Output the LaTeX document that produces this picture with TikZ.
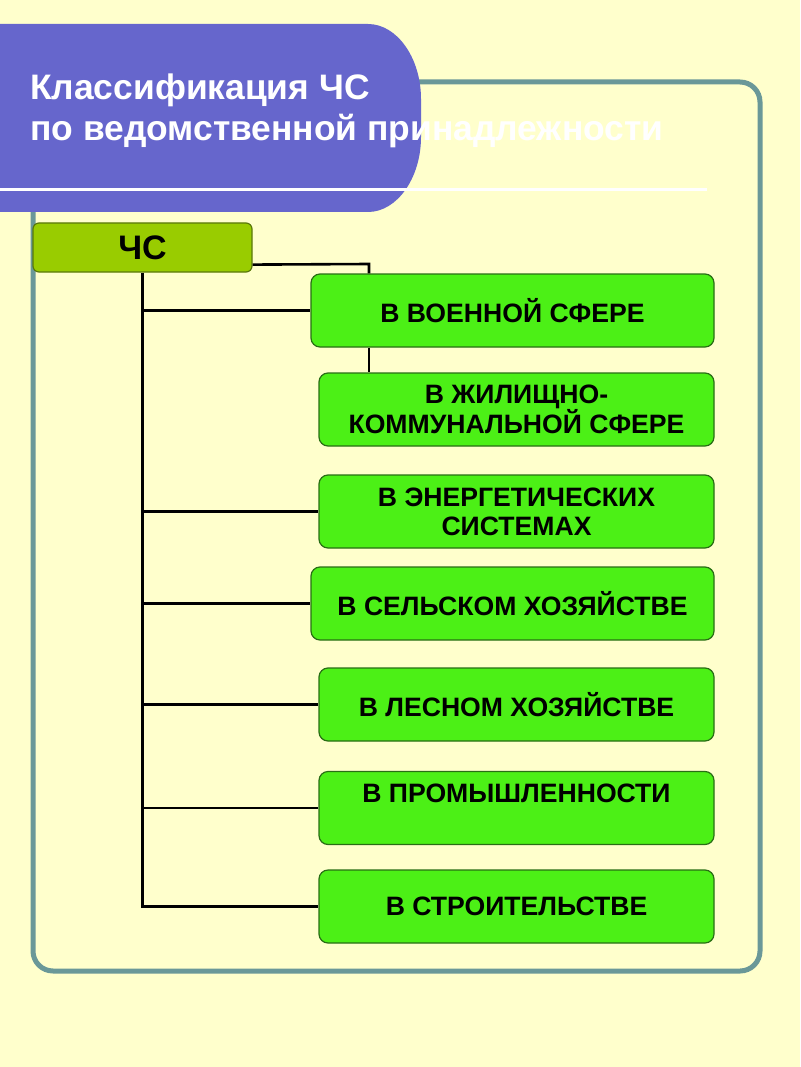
\documentclass[tikz,border=0pt]{standalone}
\usepackage{fontspec}
\setmainfont{Liberation Sans}
\definecolor{bgyellow}{RGB}{255,255,204}
\definecolor{titlepurple}{RGB}{102,102,204}
\definecolor{framegray}{RGB}{106,152,152}
\definecolor{rootgreen}{RGB}{153,204,0}
\definecolor{rootborder}{RGB}{90,120,10}
\definecolor{leafgreen}{RGB}{76,240,22}
\definecolor{leafborder}{RGB}{40,110,20}
\begin{document}
\begin{tikzpicture}[x=1pt,y=-1pt,
  leaf/.style={draw=leafborder, line width=1.2pt, fill=leafgreen, rounded corners=9pt,
    minimum height=73pt, align=center, inner sep=0pt,
    font=\bfseries\fontsize{26.6}{29}\selectfont},
  root/.style={draw=rootborder, line width=1.2pt, fill=rootgreen, rounded corners=6pt,
    minimum width=219pt, minimum height=49pt, inner sep=0pt,
    font=\bfseries\fontsize{34}{38}\selectfont},
  titletext/.style={text=white, anchor=base west, inner sep=0pt,
    font=\bfseries\fontsize{35.4}{40}\selectfont},
  conn/.style={draw=black, line width=2.6pt}
]
\useasboundingbox (0,0) rectangle (800,1067);
\fill[bgyellow] (0,0) rectangle (800,1067);
% frame
\draw[framegray, line width=5pt, rounded corners=20pt] (33,82) rectangle (760,971);
% title shape
\fill[titlepurple] (-5,24) -- (368,24) .. controls (397,24) and (421,58) .. (421,99)
  -- (421,137) .. controls (421,178) and (397,212) .. (368,212) -- (-5,212) -- cycle;
\draw[white, line width=3pt] (-5,190) -- (707,190);
\node[titletext] (t1) at (30,100) {Классификация ЧС};
\node[titletext] (t2) at (30,141) {по ведомственной принадлежности};
% nodes
\node[root] (cs) at (142.5,247.5) {ЧС};
\node[leaf, minimum width=403pt] (b1) at (512.5,310.5) {В ВОЕННОЙ СФЕРЕ};
\node[leaf, minimum width=395pt] (b2) at (516.5,409.5) {В ЖИЛИЩНО-\\КОММУНАЛЬНОЙ СФЕРЕ};
\node[leaf, minimum width=395pt] (b3) at (516.5,511.5) {В ЭНЕРГЕТИЧЕСКИХ\\СИСТЕМАХ};
\node[leaf, minimum width=403pt] (b4) at (512.5,603.5) {В СЕЛЬСКОМ ХОЗЯЙСТВЕ};
\node[leaf, minimum width=395pt] (b5) at (516.5,704.5) {В ЛЕСНОМ ХОЗЯЙСТВЕ};
\node[leaf, minimum width=395pt] (b6) at (516.5,808) {В ПРОМЫШЛЕННОСТИ\\\mbox{}};
\node[leaf, minimum width=395pt] (b7) at (516.5,906.5) {В СТРОИТЕЛЬСТВЕ};
% connectors
\coordinate (k1) at ([yshift=8pt]cs.south east);
\coordinate (k2) at (369,264);
\draw[conn] (k1) -- (k2) -- (k2 |- b1.north);
\draw[conn] (k2 |- b1.south) -- (k2 |- b2.north);
\draw[conn] (cs.south) -- (cs.south |- b7.west) -- (b7.west);
\draw[conn] (cs.south |- b1.west) -- (b1.west);
\draw[conn] (cs.south |- b3.west) -- (b3.west);
\draw[conn] (cs.south |- b4.west) -- (b4.west);
\draw[conn] (cs.south |- b5.west) -- (b5.west);
\draw[conn] (cs.south |- b6.west) -- (b6.west);
\end{tikzpicture}
\end{document}
